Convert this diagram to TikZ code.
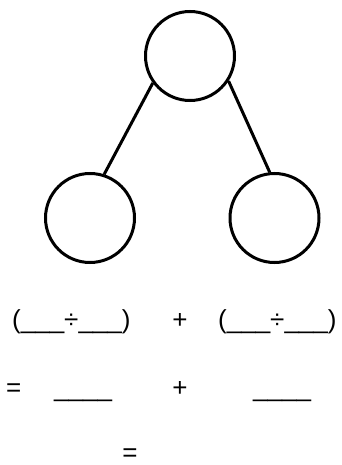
\documentclass[tikz,border=0pt]{standalone}
\usepackage{fontspec}
\setmainfont{Liberation Sans}
\usepackage{tikz}
\usetikzlibrary{positioning}

\begin{document}
\begin{tikzpicture}[
    x=1pt, y=-1pt,
    bond/.style={
        circle,
        draw,
        line width=3pt,
        minimum size=89pt,
        inner sep=0pt
    },
    stroke/.style={line width=3pt},
    sumtext/.style={
        anchor=base west,
        inner sep=0pt,
        font=\fontsize{26}{30}\selectfont
    }
]

\useasboundingbox (0,0) rectangle (341,465);

\node[bond] (whole) at (190,56) {};
\node[bond] (leftpart) at (90,218) {};
\node[bond] (rightpart) at (274.5,218) {};

\draw[stroke] (whole.216) -- (leftpart.72);
\draw[stroke] (whole.327) -- (rightpart.96);

\node[sumtext] (divleft) at (12,328) {(\_\_\_÷\_\_\_)};
\node[sumtext, anchor=base] (plusone) at (180,328) {+};
\node[sumtext] (divright) at (218,328) {(\_\_\_÷\_\_\_)};

\node[sumtext] (eqone) at (6,396) {=};
\node[sumtext] (blankleft) at (54,396) {\_\_\_\_};
\node[sumtext, anchor=base] (plustwo) at (180,396) {+};
\node[sumtext] (blankright) at (253,396) {\_\_\_\_};

\node[sumtext, anchor=base] (eqtwo) at (130,461) {=};

\end{tikzpicture}
\end{document}
